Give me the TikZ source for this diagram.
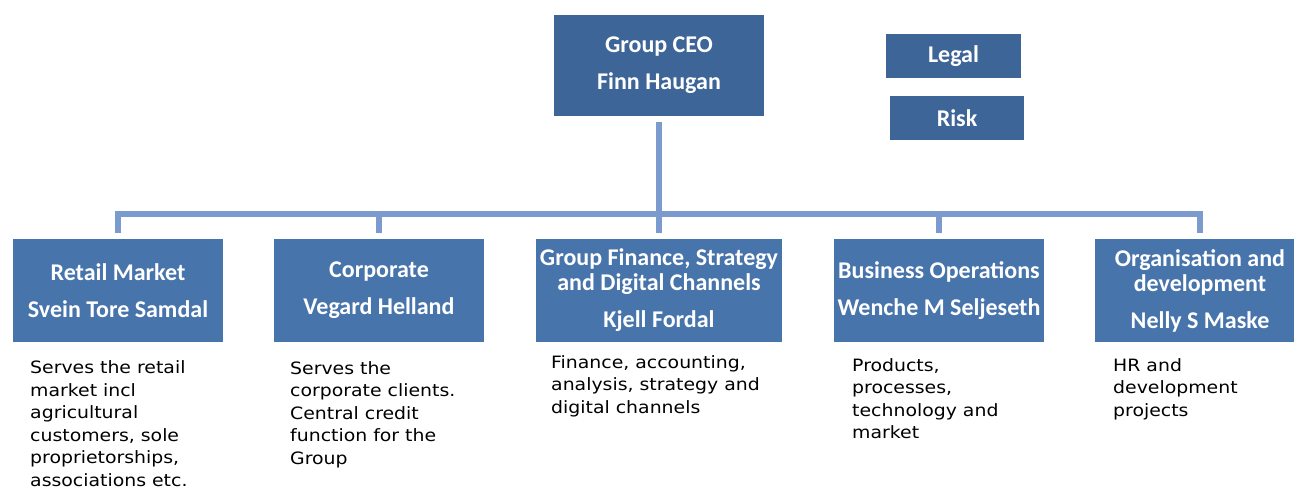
\documentclass[tikz,border=0pt]{standalone}
\usepackage{fontspec}
\setmainfont{Carlito}
\newfontfamily\descfont[FakeStretch=1.11]{DejaVu Sans}
\definecolor{darkbox}{HTML}{3E6597}
\definecolor{lightbox}{HTML}{4874AC}
\definecolor{connc}{HTML}{7B9BCF}
\tikzset{
  boxbase/.style={minimum height=103pt, inner sep=0pt, align=center, text=white,
    font=\fontsize{24}{25}\selectfont\bfseries},
  topbox/.style={boxbase, fill=darkbox, minimum width=210pt, minimum height=101pt},
  sidebox/.style={boxbase, fill=darkbox, minimum width=135pt, minimum height=44pt},
  unitbox/.style={boxbase, fill=lightbox, minimum width=210pt},
  desc/.style={anchor=north west, inner sep=0pt, align=left,
    font=\descfont\fontsize{17}{22.5}\selectfont},
  conn/.style={draw=connc, line width=5.5pt}
}
\begin{document}
\begin{tikzpicture}[x=1pt,y=1pt]
\clip (0,0) rectangle (1294,-489);
\fill[white] (0,0) rectangle (1294,-489);
\node[topbox] (ceo) at (659,-65.5) {Group CEO\\[12pt]Finn Haugan};
\node[sidebox] (legal) at (953.5,-56) {Legal};
\node[sidebox, minimum width=134pt] (risk) at (957,-118) {Risk};
\node[unitbox] (retail) at (118,-290.5) {Retail Market\\[12pt]Svein Tore Samdal};
\node[unitbox] (corp) at (379,-290.5) {Corporate\\[12pt]Vegard Helland};
\node[unitbox, minimum width=246pt] (fin) at (659,-290.5) {Group Finance, Strategy\\and Digital Channels\\[12pt]Kjell Fordal};
\node[unitbox] (bus) at (939,-290.5) {Business Operations\\[12pt]Wenche M Seljeseth};
\node[unitbox] (org) at (1200,-290.5) {Organisation and\\development\\[12pt]Nelly S Maske};
\coordinate (hub) at (659,-214);
\draw[conn] ([yshift=-6pt]ceo.south) -- (hub);
\draw[conn] ([yshift=6pt]retail.north) |- (hub);
\draw[conn] ([yshift=6pt]org.north) |- (hub);
\draw[conn] ([yshift=6pt]corp.north) -- (corp.north |- hub);
\draw[conn] ([yshift=6pt]fin.north) -- (hub);
\draw[conn] ([yshift=6pt]bus.north) -- (bus.north |- hub);
\node[desc] (d1) at (30,-360.5) {Serves the retail\\market incl\\agricultural\\customers, sole\\proprietorships,\\associations etc.};
\node[desc] (d2) at (290,-361) {Serves the\\corporate clients.\\Central credit\\function for the\\Group};
\node[desc] (d3) at (551,-355) {Finance, accounting,\\analysis, strategy and\\digital channels};
\node[desc] (d4) at (852,-358) {Products,\\processes,\\technology and\\market};
\node[desc] (d5) at (1113,-358) {HR and\\development\\projects};
\end{tikzpicture}
\end{document}
